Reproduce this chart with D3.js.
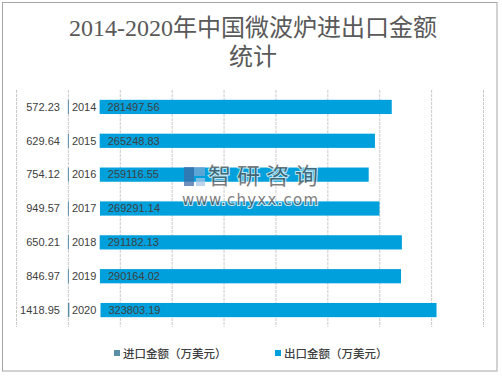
<!DOCTYPE html>
<html>
<head>
<meta charset="utf-8">
<script src="https://cdn.jsdelivr.net/npm/d3@7"></script>
<style>
  body { margin: 0; background: #fff; }
  svg { display: block; }
</style>
</head>
<body>
<svg id="chart" width="502" height="376"></svg>
<script>
// data
var years = ['2014', '2015', '2016', '2017', '2018', '2019', '2020'];
var importValues = [572.23, 629.64, 754.12, 949.57, 650.21, 846.97, 1418.95];
var exportValues = [281497.56, 265248.83, 259116.55, 269291.14, 291182.13, 290164.02, 323803.19];
var spacerValue = 30000; // blank stacked segment that holds the year labels
var xTicks = [-50000, 0, 50000, 100000, 150000, 200000, 250000, 300000, 350000, 400000];
var legendLabels = ['进口金额（万美元）', '出口金额（万美元）'];

var colors = { imp: '#5b8fa8', exp: '#00a0dc', text: '#404040', grid: '#c9c9c9' };

var svg = d3.select('#chart');

// outer frame
svg.append('rect')
  .attr('x', 2.5).attr('y', 2.5)
  .attr('width', 494.5).attr('height', 368.5)
  .attr('fill', '#fff')
  .attr('stroke', '#a6a6a6');

// title
var title = svg.append('text')
  .attr('text-anchor', 'middle')
  .attr('fill', '#595959')
  .style('font', '24px "Liberation Serif", "Noto Sans CJK SC", serif');
title.append('tspan').attr('x', 253).attr('y', 36).text('2014-2020年中国微波炉进出口金额');
title.append('tspan').attr('x', 253).attr('y', 65).text('统计');

var x = d3.scaleLinear().domain([-50000, 400000]).range([16, 483]);
var y = d3.scaleBand().domain(years).range([90, 327])
  .paddingInner(0.58)
  .paddingOuter(0.29);

// vertical grid
svg.append('g')
  .attr('class', 'x grid')
  .attr('transform', 'translate(0,90)')
  .call(d3.axisBottom(x).tickValues(xTicks).tickSize(237).tickFormat(''))
  .call(function(g) {
    g.select('.domain').remove();
    g.selectAll('.tick line')
      .attr('stroke', colors.grid)
      .attr('stroke-dasharray', '3,1');
  });

var rows = years.map(function(yr, i) {
  return { year: yr, imp: importValues[i], exp: exportValues[i] };
});

// import bars (tiny)
svg.append('g').selectAll('rect')
  .data(rows)
  .join('rect')
  .attr('x', x(0))
  .attr('y', function(d) { return y(d.year); })
  .attr('width', function(d) { return Math.max(1, x(d.imp) - x(0)); })
  .attr('height', y.bandwidth())
  .attr('fill', colors.imp);

// export bars stacked after import + spacer
svg.append('g').selectAll('rect')
  .data(rows)
  .join('rect')
  .attr('x', function(d) { return x(d.imp + spacerValue); })
  .attr('y', function(d) { return y(d.year); })
  .attr('width', function(d) { return x(d.imp + spacerValue + d.exp) - x(d.imp + spacerValue); })
  .attr('height', y.bandwidth())
  .attr('fill', colors.exp);

var labelFont = '11px "Liberation Sans", Arial, sans-serif';
var mid = function(d) { return y(d.year) + y.bandwidth() / 2; };

// import values on the left
svg.append('g').selectAll('text')
  .data(rows)
  .join('text')
  .attr('x', x(0) - 8)
  .attr('y', mid)
  .attr('dy', '0.35em')
  .attr('text-anchor', 'end')
  .attr('fill', colors.text)
  .style('font', labelFont)
  .text(function(d) { return d.imp.toFixed(2); });

// year labels
svg.append('g').selectAll('text')
  .data(rows)
  .join('text')
  .attr('x', x(0) + 4)
  .attr('y', mid)
  .attr('dy', '0.35em')
  .attr('fill', colors.text)
  .style('font', labelFont)
  .text(function(d) { return d.year; });

// export values inside bars
svg.append('g').selectAll('text')
  .data(rows)
  .join('text')
  .attr('x', function(d) { return x(d.imp + spacerValue) + 8; })
  .attr('y', mid)
  .attr('dy', '0.35em')
  .attr('fill', colors.text)
  .style('font', labelFont)
  .text(function(d) { return d.exp.toFixed(2); });

// watermark
var wm = svg.append('g').attr('opacity', 0.75);
wm.append('rect').attr('x', 184).attr('y', 167).attr('width', 10).attr('height', 19).attr('fill', '#3f6ea8');
wm.append('rect').attr('x', 194).attr('y', 167).attr('width', 11).attr('height', 9).attr('fill', '#7aa7d6');
wm.append('rect').attr('x', 196).attr('y', 178).attr('width', 9).attr('height', 8).attr('fill', '#a9c6e6');
wm.append('text')
  .attr('x', 208).attr('y', 184)
  .attr('textLength', 110)
  .attr('fill', '#555')
  .attr('stroke', '#fff').attr('stroke-width', 2).attr('paint-order', 'stroke')
  .style('font', '23px "Noto Sans CJK SC", sans-serif')
  .text('智研咨询');
wm.append('text')
  .attr('x', 182).attr('y', 205)
  .attr('textLength', 136)
  .attr('fill', '#555')
  .attr('stroke', '#fff').attr('stroke-width', 2).attr('paint-order', 'stroke')
  .style('font', '15px "DejaVu Sans", sans-serif')
  .text('www.chyxx.com');

// legend
var legend = svg.append('g');
var legendX = [114, 275];
legendLabels.forEach(function(lbl, i) {
  legend.append('rect')
    .attr('x', legendX[i]).attr('y', 350)
    .attr('width', 6).attr('height', 6)
    .attr('fill', i === 0 ? colors.imp : colors.exp);
  legend.append('text')
    .attr('x', legendX[i] + 9).attr('y', 357.5)
    .attr('fill', colors.text)
    .style('font', '500 11.5px "Noto Sans CJK SC", sans-serif')
    .text(lbl);
});
</script>
</body>
</html>
